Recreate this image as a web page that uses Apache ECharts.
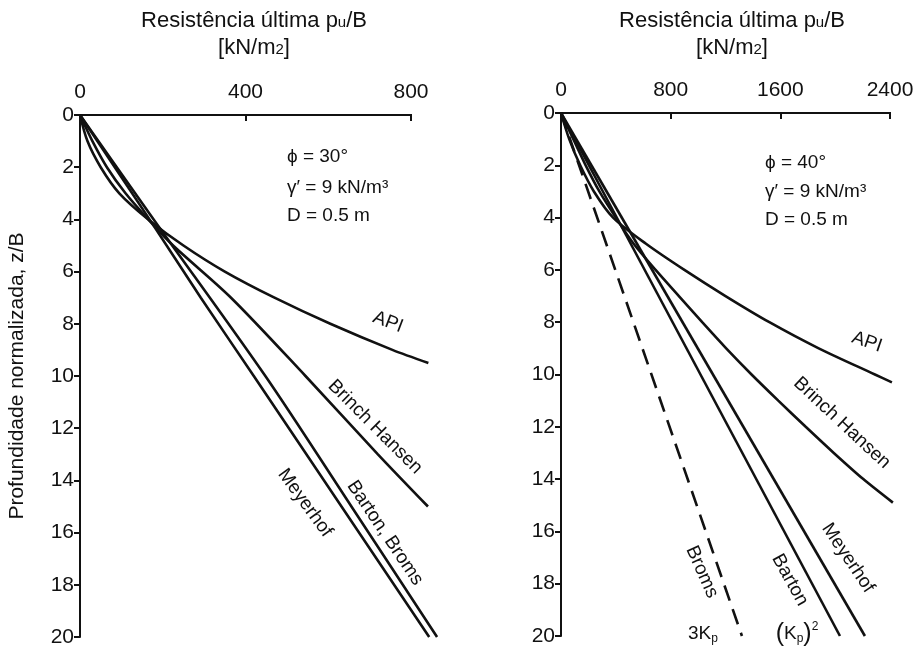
<!DOCTYPE html>
<html>
<head>
<meta charset="utf-8">
<script src="https://cdn.jsdelivr.net/npm/echarts@6/dist/echarts.min.js"></script>
<style>
  html, body { margin: 0; padding: 0; background: #fff; }
  #chart { width: 920px; height: 653px; }
</style>
</head>
<body>
<div id="chart"></div>
<script>
// depth z/B (y) and resistance pu/B (x), phi = 30
const leftMeyerhofZ = [0, 4, 7, 10, 15, 20];
const leftMeyerhofP = [0, 168, 292, 420, 632, 844];
const leftBartonZ = [0, 4, 10, 15, 20];
const leftBartonP = [0, 178, 448, 656, 863];
const leftHansenZ = [0, 1, 2, 3, 4, 5, 7, 10, 13, 15];
const leftHansenP = [0, 30, 65, 110, 165, 225, 365, 545, 720, 841];
const leftApiZ = [0, 1, 2, 3, 4, 5, 6, 7, 8, 9, 9.5];
const leftApiP = [0, 18, 50, 95, 165, 250, 350, 470, 605, 755, 842];

// phi = 40
const rightMeyerhofZ = [0, 20];
const rightMeyerhofP = [0, 2217];
const rightBartonZ = [0, 20];
const rightBartonP = [0, 2035];
const rightBromsZ = [0, 20];
const rightBromsP = [0, 1320];
const rightHansenZ = [0, 1, 2, 3, 4, 5, 6, 7, 8, 9, 10, 11, 12, 13, 14, 14.9];
const rightHansenP = [0, 90, 180, 280, 400, 530, 690, 860, 1030, 1205, 1390, 1585, 1785, 1990, 2205, 2421];
const rightApiZ = [0, 1, 2, 3, 4, 5, 6, 7, 8, 9, 10, 10.3];
const rightApiP = [0, 60, 140, 240, 380, 620, 900, 1200, 1520, 1880, 2290, 2414];

// tick labels
const leftXTicks = [0, 400, 800];
const rightXTicks = [0, 800, 1600, 2400];
const depthMax = 20, depthStep = 2;
// the curves run a bit past the last tick, so the scale goes further
const leftXMax = 880, rightXMax = 2440;

const FONT = '"Liberation Sans", Arial, sans-serif';
const INK = '#111';

function pairs(p, z) {
  return p.map((v, i) => [v, z[i]]);
}

function curve(name, idx, p, z, dashed, smooth) {
  return {
    name: name,
    type: 'line',
    xAxisIndex: idx,
    yAxisIndex: idx,
    data: pairs(p, z),
    symbol: 'none',
    smooth: smooth ? 0.3 : false,
    silent: true,
    lineStyle: { color: INK, width: 2.6, type: dashed ? [16, 9] : 'solid' }
  };
}

function xAxis(idx, max, ticks) {
  return {
    gridIndex: idx, type: 'value', position: 'top',
    min: 0, max: max, interval: ticks[1] - ticks[0],
    axisLine: { show: false },
    axisTick: { show: true, inside: true, length: 6, customValues: ticks.slice(1),
      lineStyle: { color: INK, width: 2 } },
    axisLabel: { color: INK, fontSize: 21, fontFamily: FONT, margin: 12,
      customValues: ticks, formatter: v => String(v) },
    splitLine: { show: false }
  };
}

function yAxis(idx, withName) {
  const ax = {
    gridIndex: idx, type: 'value', inverse: true,
    min: 0, max: depthMax, interval: depthStep,
    axisLine: { show: true, lineStyle: { color: INK, width: 2 } },
    axisTick: { show: true, length: 6, lineStyle: { color: INK, width: 2 } },
    axisLabel: { color: INK, fontSize: 21, fontFamily: FONT, margin: 6 },
    splitLine: { show: false }
  };
  if (withName) {
    ax.name = 'Profundidade normalizada, z/B';
    ax.nameLocation = 'middle';
    ax.nameRotate = 90;
    ax.nameGap = 52;
    ax.nameTextStyle = { color: INK, fontSize: 21, fontFamily: FONT };
  }
  return ax;
}

function titleText(cx) {
  return {
    left: cx, top: 2, textAlign: 'center',
    text: '{a|Resistência última p}{s|u}{a|/B}\n{a|[kN/m}{s|2}{a|]}',
    textStyle: {
      rich: {
        a: { fontSize: 22, fontWeight: 'normal', fontFamily: FONT, color: INK, lineHeight: 27 },
        s: { fontSize: 15, fontWeight: 'normal', fontFamily: FONT, color: INK, lineHeight: 27, padding: [4, 0, 0, 0] }
      }
    }
  };
}

function txt(x, y, text, rot) {
  return {
    type: 'text', x: x, y: y, rotation: (rot || 0) * Math.PI / 180,
    silent: true,
    style: {
      text: text, fill: INK, fontSize: 19, fontFamily: FONT,
      align: 'center', verticalAlign: 'middle'
    }
  };
}

function paramText(x, y, text) {
  return {
    type: 'text', x: x, y: y, silent: true,
    style: { text: text, fill: INK, fontSize: 19, fontFamily: FONT, align: 'left', verticalAlign: 'middle' }
  };
}

function richText(x, y, text, rich) {
  return {
    type: 'text', x: x, y: y, silent: true,
    style: { text: text, rich: rich, fill: INK, align: 'center', verticalAlign: 'middle' }
  };
}

function axisLine(gridIndex, end) {
  const a = chart.convertToPixel({ gridIndex: gridIndex }, [0, 0]);
  const b = chart.convertToPixel({ gridIndex: gridIndex }, [end, 0]);
  return {
    type: 'line', silent: true,
    shape: { x1: a[0] - 1, y1: a[1], x2: b[0] + 1, y2: b[1] },
    style: { stroke: INK, lineWidth: 2 }
  };
}

const chart = echarts.init(document.getElementById('chart'));

chart.setOption({
  backgroundColor: '#fff',
  animation: false,
  title: [titleText(249), titleText(727)],
  grid: [
    { left: 80, top: 115, width: 331 * leftXMax / 800, height: 522 },
    { left: 561, top: 113, width: 329 * rightXMax / 2400, height: 523 }
  ],
  xAxis: [xAxis(0, leftXMax, leftXTicks), xAxis(1, rightXMax, rightXTicks)],
  yAxis: [yAxis(0, true), yAxis(1, false)],
  series: [
    curve('API', 0, leftApiP, leftApiZ, false, true),
    curve('Brinch Hansen', 0, leftHansenP, leftHansenZ, false, true),
    curve('Barton, Broms', 0, leftBartonP, leftBartonZ, false, true),
    curve('Meyerhof', 0, leftMeyerhofP, leftMeyerhofZ, false, true),
    curve('API', 1, rightApiP, rightApiZ, false, true),
    curve('Brinch Hansen', 1, rightHansenP, rightHansenZ, false, true),
    curve('Meyerhof', 1, rightMeyerhofP, rightMeyerhofZ, false, false),
    curve('Barton', 1, rightBartonP, rightBartonZ, false, false),
    curve('Broms', 1, rightBromsP, rightBromsZ, true, false)
  ]
});

const sub = { fontSize: 12, fontFamily: FONT, fill: INK, padding: [10, 0, 0, 0] };
chart.setOption({
  graphic: [
    axisLine(0, leftXTicks[leftXTicks.length - 1]),
    axisLine(1, rightXTicks[rightXTicks.length - 1]),
    paramText(287, 157, 'ϕ = 30°'),
    paramText(287, 188, 'γ′ = 9 kN/m³'),
    paramText(287, 216, 'D = 0.5 m'),
    paramText(765, 163, 'ϕ = 40°'),
    paramText(765, 192, 'γ′ = 9 kN/m³'),
    paramText(765, 220, 'D = 0.5 m'),
    txt(388, 322, 'API', -21),
    txt(375, 427, 'Brinch Hansen', -45),
    txt(385, 533, 'Barton, Broms', -56),
    txt(305, 503, 'Meyerhof', -54),
    txt(867, 342, 'API', -19),
    txt(842, 423, 'Brinch Hansen', -43),
    txt(848, 558, 'Meyerhof', -56),
    txt(790, 580, 'Barton', -61),
    txt(702, 572, 'Broms', -66),
    richText(703, 634, '{a|3K}{s|p}', {
      a: { fontSize: 19, fontFamily: FONT, fill: INK },
      s: sub
    }),
    richText(797, 634, '{b|(}{a|K}{s|p}{b|)}{t|2}', {
      a: { fontSize: 19, fontFamily: FONT, fill: INK },
      b: { fontSize: 25, fontFamily: FONT, fill: INK },
      s: sub,
      t: { fontSize: 12, fontFamily: FONT, fill: INK, padding: [0, 0, 14, 0] }
    })
  ]
});
</script>
</body>
</html>
